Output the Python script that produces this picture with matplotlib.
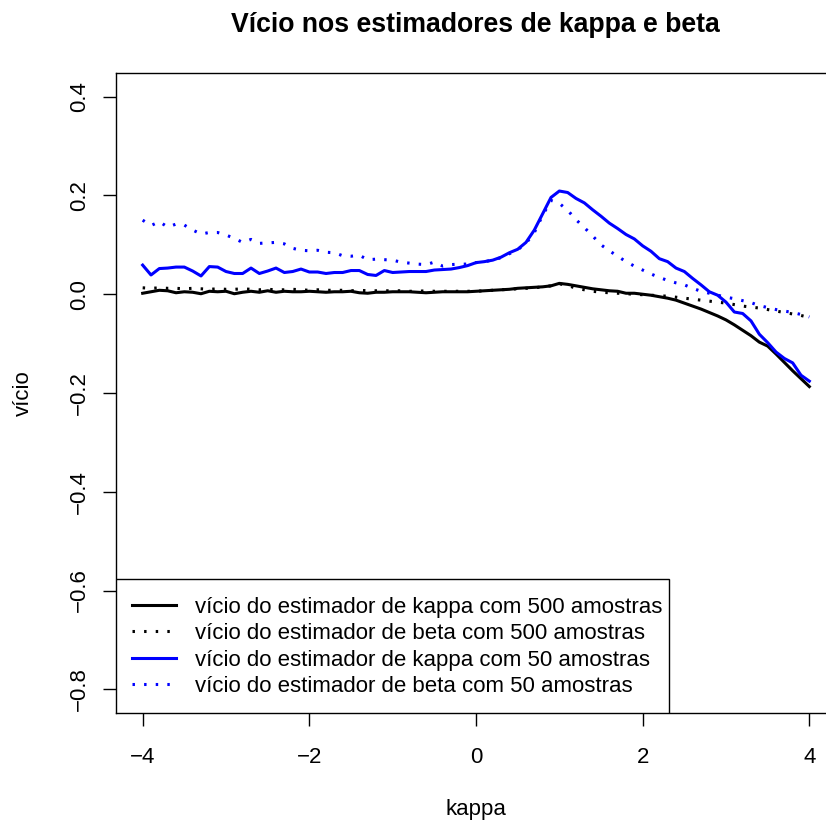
import matplotlib
matplotlib.use('Agg')
import matplotlib.pyplot as plt
from matplotlib.patches import Rectangle
import numpy as np

plt.rcParams['font.family'] = ['Liberation Sans', 'DejaVu Sans']

# grid of kappa values (-4 to 4 by 0.1)
kappa = np.round(np.arange(-40, 41) / 10, 1)

# vicio do estimador de kappa, 500 amostras
kappa_500 = [
    0.002, 0.005, 0.008, 0.007, 0.003, 0.005, 0.004, 0.001, 0.006, 0.005,
    0.006, 0.001, 0.004, 0.006, 0.004, 0.007, 0.004, 0.006, 0.005, 0.005,
    0.006, 0.005, 0.004, 0.005, 0.005, 0.006, 0.003, 0.002, 0.004, 0.004,
    0.005, 0.005, 0.005, 0.004, 0.003, 0.004, 0.005, 0.005, 0.005, 0.005,
    0.006, 0.007, 0.008, 0.009, 0.010, 0.012, 0.013, 0.014, 0.015, 0.017,
    0.022, 0.020, 0.017, 0.014, 0.011, 0.009, 0.007, 0.006, 0.002, 0.002,
    0.000, -0.002, -0.005, -0.008, -0.012, -0.018, -0.024, -0.030, -0.037, -0.044,
    -0.052, -0.062, -0.073, -0.084, -0.097, -0.105, -0.121, -0.138, -0.155, -0.171,
    -0.187,
]

# vicio do estimador de beta, 500 amostras
beta_500 = [
    0.013, 0.012, 0.013, 0.012, 0.012, 0.011, 0.012, 0.011, 0.010, 0.011,
    0.010, 0.010, 0.011, 0.010, 0.009, 0.010, 0.009, 0.009, 0.010, 0.009,
    0.008, 0.009, 0.008, 0.008, 0.008, 0.007, 0.008, 0.007, 0.007, 0.007,
    0.007, 0.007, 0.006, 0.006, 0.007, 0.006, 0.006, 0.006, 0.006, 0.006,
    0.006, 0.007, 0.008, 0.009, 0.010, 0.011, 0.012, 0.013, 0.015, 0.017,
    0.021, 0.018, 0.012, 0.009, 0.006, 0.004, 0.003, 0.002, 0.001, 0.000,
    -0.001, -0.002, -0.003, -0.004, -0.006, -0.008, -0.010, -0.012, -0.014, -0.016,
    -0.018, -0.021, -0.024, -0.026, -0.028, -0.031, -0.034, -0.037, -0.040, -0.043,
    -0.047,
]

# vicio do estimador de kappa, 50 amostras
kappa_50 = [
    0.059, 0.039, 0.052, 0.053, 0.055, 0.055, 0.047, 0.037, 0.056, 0.055,
    0.046, 0.042, 0.042, 0.053, 0.042, 0.047, 0.053, 0.044, 0.046, 0.051,
    0.045, 0.045, 0.042, 0.044, 0.044, 0.048, 0.048, 0.040, 0.038, 0.048,
    0.044, 0.045, 0.046, 0.046, 0.046, 0.049, 0.050, 0.051, 0.054, 0.058,
    0.064, 0.066, 0.069, 0.075, 0.084, 0.091, 0.105, 0.130, 0.163, 0.196,
    0.209, 0.206, 0.194, 0.185, 0.171, 0.158, 0.144, 0.133, 0.121, 0.112,
    0.098, 0.087, 0.072, 0.066, 0.053, 0.046, 0.032, 0.019, 0.005, -0.002,
    -0.016, -0.036, -0.039, -0.054, -0.081, -0.098, -0.117, -0.130, -0.139, -0.164,
    -0.176,
]

# vicio do estimador de beta, 50 amostras
beta_50 = [
    0.150, 0.139, 0.147, 0.136, 0.142, 0.140, 0.130, 0.122, 0.125, 0.125,
    0.120, 0.113, 0.105, 0.111, 0.103, 0.104, 0.105, 0.102, 0.093, 0.089,
    0.088, 0.089, 0.085, 0.084, 0.078, 0.077, 0.079, 0.070, 0.071, 0.070,
    0.069, 0.065, 0.063, 0.061, 0.060, 0.065, 0.057, 0.060, 0.061, 0.061,
    0.064, 0.066, 0.069, 0.074, 0.082, 0.090, 0.103, 0.125, 0.160, 0.190,
    0.184, 0.170, 0.151, 0.135, 0.118, 0.100, 0.088, 0.077, 0.066, 0.057,
    0.049, 0.041, 0.034, 0.028, 0.023, 0.019, 0.012, 0.006, 0.002, -0.002,
    -0.006, -0.009, -0.013, -0.017, -0.023, -0.027, -0.031, -0.034, -0.037, -0.041,
    -0.046,
]

labels = [
    'vício do estimador de kappa com 500 amostras',
    'vício do estimador de beta com 500 amostras',
    'vício do estimador de kappa com 50 amostras',
    'vício do estimador de beta com 50 amostras',
]

W, H = 826, 824
fig = plt.figure(figsize=(W / 100, H / 100), dpi=100)
# right edge of the box falls just outside the picture, as in the original
ax = fig.add_axes([116 / W, 1 - 713 / H, 720 / W, 640 / H])

lw = 2.2
dots = (0, (0.8, 3.0))
ax.plot(kappa, kappa_500, color='black', lw=lw, label=labels[0])
ax.plot(kappa, beta_500, color='black', lw=lw, linestyle=dots, label=labels[1])
ax.plot(kappa, kappa_50, color='blue', lw=lw, label=labels[2])
ax.plot(kappa, beta_50, color='blue', lw=lw, linestyle=dots, label=labels[3])

ax.set_xlim(-4.32, 4.32)
ax.set_ylim(-0.848, 0.448)
ax.set_xticks([-4, -2, 0, 2, 4])
ax.set_xticklabels(['\u22124', '\u22122', '0', '2', '4'])
yt = [-0.8, -0.6, -0.4, -0.2, 0.0, 0.2, 0.4]
ax.set_yticks(yt)
ax.set_yticklabels([('\u2212' if v < 0 else '') + f'{abs(v):.1f}' for v in yt],
                   rotation=90, va='center')

ax.tick_params(direction='out', length=9.6, width=1, labelsize=16)
ax.tick_params(axis='x', pad=15)
ax.tick_params(axis='y', pad=9)
for s in ax.spines.values():
    s.set_linewidth(1)

ax.set_xlabel('kappa', fontsize=16)
ax.xaxis.set_label_coords(0.5, (713 - 809) / 640)
ax.xaxis.label.set_va('center')
ax.set_ylabel('vício', fontsize=16)
ax.yaxis.set_label_coords((23 - 116) / 720, 0.5)
ax.yaxis.label.set_va('center')

fig.text(475 / W, 1 - 32 / H, 'Vício nos estimadores de kappa e beta',
         fontsize=19.2, fontweight='bold', ha='center', va='baseline')

# legend box drawn by hand (R style: tight on the right, roomy on top)
ax.add_patch(Rectangle((0, 0), (669 - 116) / 720, (713 - 579) / 640,
                       transform=ax.transAxes, facecolor='white',
                       edgecolor='black', lw=1, zorder=4))
leg = ax.legend(loc='upper left',
                bbox_to_anchor=((132 - 116) / 720, (713 - 596.5) / 640),
                borderaxespad=0, borderpad=0, frameon=False,
                fontsize=16, handlelength=2.0, handletextpad=0.85,
                labelspacing=0.25)
leg.set_zorder(5)

plt.savefig('out.png', dpi=100)
plt.close()
